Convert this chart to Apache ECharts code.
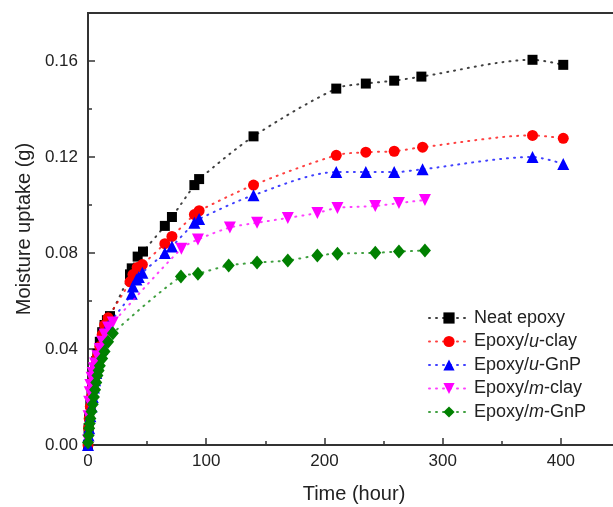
<!DOCTYPE html>
<html>
<head>
<meta charset="utf-8">
<script src="https://cdn.jsdelivr.net/npm/echarts@6/dist/echarts.min.js"></script>
<style>
  html, body { margin: 0; padding: 0; background: #fff; overflow: hidden; }
  #chart { width: 613px; height: 507px; }
</style>
</head>
<body>
<div id="chart"></div>
<script>
// series names
const seriesNames = ['Neat epoxy', 'Epoxy/u-clay', 'Epoxy/u-GnP', 'Epoxy/m-clay', 'Epoxy/m-GnP'];

// time (hour) and moisture uptake (g)
const neatT = [0, 0.5, 1, 2, 3, 4, 5, 6, 7, 8, 10, 12, 14, 16, 18.6, 35.5, 37, 42, 46.5, 65, 71, 90, 94, 140, 210, 235, 259, 282, 376, 402];
const neatV = [0, 0.007, 0.012, 0.017, 0.021, 0.025, 0.029, 0.032, 0.035, 0.038, 0.043, 0.047, 0.050, 0.052, 0.0537, 0.0711, 0.0736, 0.0785, 0.0806, 0.0913, 0.095, 0.1083, 0.1108, 0.1286, 0.1485, 0.1506, 0.1518, 0.1535, 0.1605, 0.1584];

const uClayT = [0, 0.5, 1, 2, 3, 4, 5, 6, 7, 8, 10, 12, 14, 17, 35.5, 38, 41.6, 46, 65, 71, 90, 94, 140, 210, 235, 259, 283, 376, 402];
const uClayV = [0, 0.007, 0.011, 0.016, 0.020, 0.024, 0.028, 0.031, 0.034, 0.037, 0.041, 0.046, 0.050, 0.053, 0.068, 0.071, 0.074, 0.0752, 0.0839, 0.0869, 0.096, 0.0976, 0.1083, 0.1207, 0.122, 0.1224, 0.1241, 0.129, 0.1278];

const uGnpT = [0, 0.5, 1, 2, 3, 4, 5, 6, 7, 8, 10, 12, 13, 14, 17, 37, 38, 41, 43, 46, 65, 71, 90, 94, 140, 210, 235, 259, 283, 376, 402];
const uGnpV = [0, 0.004, 0.007, 0.012, 0.016, 0.020, 0.024, 0.027, 0.030, 0.033, 0.038, 0.040, 0.041, 0.044, 0.0496, 0.063, 0.066, 0.069, 0.070, 0.0718, 0.080, 0.0827, 0.0926, 0.0942, 0.1041, 0.1137, 0.1137, 0.1137, 0.1149, 0.120, 0.1171];

const mClayT = [0, 0.5, 1, 1.5, 2, 3, 4, 5, 6, 8, 10, 12, 14, 17, 21, 79, 93, 120, 143, 169, 194, 211, 243, 263, 285];
const mClayV = [0.002, 0.012, 0.018, 0.022, 0.025, 0.028, 0.030, 0.032, 0.034, 0.037, 0.040, 0.043, 0.046, 0.049, 0.051, 0.0818, 0.0856, 0.0906, 0.0926, 0.0946, 0.0967, 0.0988, 0.0996, 0.1008, 0.1021];

const mGnpT = [0, 0.5, 1, 1.5, 2, 3, 4, 5, 6, 7, 8, 9, 10, 12, 14, 17, 21, 78.6, 93, 119, 143, 169, 194, 211, 243, 263, 285];
const mGnpV = [0.001, 0.004, 0.007, 0.009, 0.011, 0.014, 0.017, 0.020, 0.023, 0.026, 0.029, 0.031, 0.033, 0.036, 0.039, 0.043, 0.0466, 0.0702, 0.0714, 0.0748, 0.0760, 0.0769, 0.0790, 0.0797, 0.0801, 0.0806, 0.0810];

const allT = [neatT, uClayT, uGnpT, mClayT, mGnpT];
const allV = [neatV, uClayV, uGnpV, mClayV, mGnpV];

// look of each series
const colors = ['#000000', '#ff0000', '#0000ff', '#ff00ff', '#008000'];
const symbols = ['rect', 'circle', 'triangle', 'triangle', 'diamond'];
const symbolSizes = [10, 11, 12, 12, [12, 14]];
const symbolRotates = [0, 0, 0, 180, 0];

const textColor = '#222';
const fontFamily = '"Liberation Sans", Arial, sans-serif';

const chart = echarts.init(document.getElementById('chart'));

const series = seriesNames.map((name, i) => ({
    name: name,
    type: 'line',
    xAxisIndex: 0,
    yAxisIndex: 0,
    smooth: 0.3,
    data: allT[i].map((t, j) => [t, allV[i][j]]),
    symbol: symbols[i],
    symbolSize: symbolSizes[i],
    symbolRotate: symbolRotates[i],
    itemStyle: { color: colors[i] },
    lineStyle: { color: colors[i], width: 2, type: [1, 6], cap: 'round', opacity: 0.75 },
    showAllSymbol: true,
    z: 2 + i
}));

const option = {
    animation: false,
    backgroundColor: '#fff',
    grid: {
        left: 88, top: 13, width: 532, bottom: 62,
        outerBoundsMode: 'none',
        show: true, borderColor: '#333', borderWidth: 2, containLabel: false
    },
    legend: {
        orient: 'vertical',
        left: 423,
        top: 303,
        itemWidth: 40,
        itemHeight: 14,
        itemGap: 3.5,
        data: seriesNames,
        textStyle: {
            color: textColor, fontFamily: fontFamily, fontSize: 18, lineHeight: 20,
            rich: { i: { fontStyle: 'italic', color: textColor, fontFamily: fontFamily, fontSize: 18, lineHeight: 20 } }
        },
        formatter: name => name.replace(/\/(u|m)-/, '/{i|$1}-')
    },
    xAxis: [{
        type: 'value', min: 0, max: 450, interval: 100, position: 'bottom',
        name: 'Time (hour)', nameLocation: 'middle', nameGap: 39,
        nameTextStyle: { color: textColor, fontFamily: fontFamily, fontSize: 20 },
        axisLine: { onZero: false, lineStyle: { color: '#333', width: 2 } },
        axisTick: { inside: true, length: 7, lineStyle: { color: '#333', width: 1.5 } },
        axisLabel: { color: textColor, fontFamily: fontFamily, fontSize: 17, margin: 8, showMaxLabel: false },
        splitLine: { show: false }
    }, {
        type: 'value', min: 0, max: 450, interval: 50, position: 'bottom',
        axisLine: { show: false, onZero: false },
        axisTick: { inside: true, length: 4, lineStyle: { color: '#333', width: 1.5 } },
        axisLabel: { show: false },
        splitLine: { show: false }
    }],
    yAxis: [{
        type: 'value', min: 0, max: 0.18, interval: 0.04, position: 'left',
        name: 'Moisture uptake (g)', nameLocation: 'middle', nameGap: 54,
        nameTextStyle: { color: textColor, fontFamily: fontFamily, fontSize: 20 },
        axisLine: { onZero: false, lineStyle: { color: '#333', width: 2 } },
        axisTick: { inside: true, length: 7, lineStyle: { color: '#333', width: 1.5 } },
        axisLabel: {
            color: textColor, fontFamily: fontFamily, fontSize: 17, margin: 10, showMaxLabel: false,
            formatter: v => v.toFixed(2)
        },
        splitLine: { show: false }
    }, {
        type: 'value', min: 0, max: 0.18, interval: 0.02, position: 'left',
        axisLine: { show: false, onZero: false },
        axisTick: { inside: true, length: 4, lineStyle: { color: '#333', width: 1.5 } },
        axisLabel: { show: false },
        splitLine: { show: false }
    }],
    series: series
};

chart.setOption(option);
</script>
</body>
</html>
